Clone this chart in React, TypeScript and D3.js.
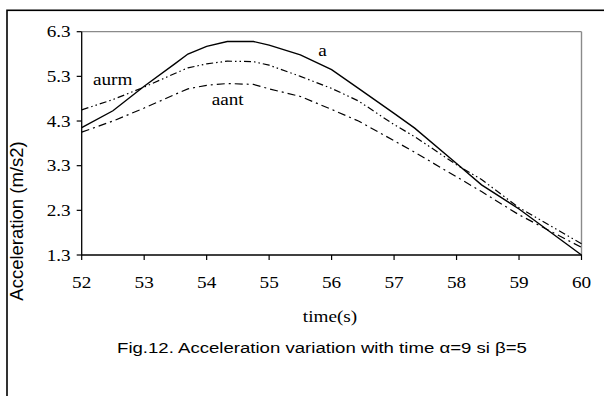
import React from "react";
import * as d3 from "d3";

const time = [52, 52.5, 53, 53.5, 53.7, 54, 54.33, 54.75, 55, 55.5, 56, 56.43, 57, 57.33, 58, 58.4, 59, 60];
const aValues = [4.15, 4.53, 5.08, 5.59, 5.8, 5.97, 6.08, 6.08, 6.0, 5.78, 5.45, 5.03, 4.47, 4.14, 3.35, 2.87, 2.33, 1.3];
const aurmValues = [4.55, 4.78, 5.06, 5.37, 5.49, 5.58, 5.64, 5.63, 5.55, 5.3, 5.03, 4.75, 4.22, 3.95, 3.32, 2.99, 2.36, 1.55];
const aantValues = [4.05, 4.3, 4.59, 4.9, 5.02, 5.1, 5.14, 5.12, 5.02, 4.85, 4.56, 4.3, 3.86, 3.6, 3.05, 2.72, 2.2, 1.47];
const xTicks = [52, 53, 54, 55, 56, 57, 58, 59, 60];
const yTicks = [1.3, 2.3, 3.3, 4.3, 5.3, 6.3];

const series = [
  { name: "a", values: aValues, dash: "none", width: 1.4, label: { t: 55.855, v: 5.76, anchor: "middle" } },
  { name: "aurm", values: aurmValues, dash: "7,3,1.5,3,1.5,3", width: 1.2, label: { t: 52.18, v: 5.11, anchor: "start" } },
  { name: "aant", values: aantValues, dash: "8,4,2,4", width: 1.2, label: { t: 54.08, v: 4.66, anchor: "start" } },
];

const SX = 1.2;
const serif = "'Liberation Serif', 'Times New Roman', serif";
const sans = "'Liberation Sans', Arial, sans-serif";

export default function App() {
  const left = 81.7, right = 581.5, top = 31.7, bottom = 255;
  const x = d3.scaleLinear().domain([52, 60]).range([left, right]);
  const y = d3.scaleLinear().domain([1.3, 6.3]).range([bottom, top]);
  const line = (vals: number[]) =>
    d3.line<number>().x((_, i) => x(time[i])).y((d) => y(d))(vals) || "";

  return (
    <svg width={604} height={396} style={{ position: "absolute", left: 0, top: 0, background: "#fff" }}>
      <rect x={0} y={0} width={604} height={396} fill="#fff" />
      <rect x={7} y={10.3} width={640} height={420} fill="none" stroke="#000" strokeWidth={1.6} />
      {/* plot frame */}
      <line x1={left} x2={right} y1={top} y2={top} stroke="#8a8a8a" strokeWidth={1.2} />
      <line x1={right} x2={right} y1={top} y2={bottom} stroke="#8a8a8a" strokeWidth={1.4} />
      {/* series */}
      {series.map((s) => (
        <path key={s.name} d={line(s.values)} fill="none" stroke="#000" strokeWidth={s.width} strokeDasharray={s.dash} />
      ))}
      {/* axes */}
      <line x1={left} x2={left} y1={top} y2={bottom} stroke="#000" strokeWidth={1.3} />
      <line x1={left} x2={right} y1={bottom} y2={bottom} stroke="#000" strokeWidth={1.3} />
      {yTicks.map((t) => (
        <g key={"y" + t}>
          <line x1={left - 5} x2={left} y1={y(t)} y2={y(t)} stroke="#000" strokeWidth={1.2} />
          <text
            transform={`translate(${left - 11},${y(t) + 5.5}) scale(${SX},1)`}
            textAnchor="end"
            fontFamily={serif}
            fontSize={16}
            fill="#000"
          >
            {t.toFixed(1)}
          </text>
        </g>
      ))}
      {xTicks.map((t) => (
        <g key={"x" + t}>
          <line x1={x(t)} x2={x(t)} y1={bottom} y2={bottom + 5} stroke="#000" strokeWidth={1.2} />
          <text
            transform={`translate(${x(t)},${288}) scale(${SX},1)`}
            textAnchor="middle"
            fontFamily={serif}
            fontSize={16}
            fill="#000"
          >
            {t}
          </text>
        </g>
      ))}
      {/* series labels */}
      {series.map((s) => (
        <text
          key={"l" + s.name}
          transform={`translate(${x(s.label.t)},${y(s.label.v)}) scale(${SX},1)`}
          textAnchor={s.label.anchor}
          fontFamily={serif}
          fontSize={16}
          fill="#000"
        >
          {s.name}
        </text>
      ))}
      {/* axis titles */}
      <text
        transform={`translate(330,322) scale(${SX},1)`}
        textAnchor="middle"
        fontFamily={serif}
        fontSize={16}
        fill="#000"
      >
        time(s)
      </text>
      <text
        transform="translate(22.5,221) rotate(-90)"
        textAnchor="middle"
        fontFamily={sans}
        fontSize={18.5}
        fill="#000"
      >
        Acceleration (m/s2)
      </text>
      <text
        transform={`translate(322,353) scale(${SX},1)`}
        textAnchor="middle"
        fontFamily={sans}
        fontSize={15.5}
        fill="#000"
      >
        Fig.12. Acceleration variation with time α=9 si β=5
      </text>
    </svg>
  );
}
